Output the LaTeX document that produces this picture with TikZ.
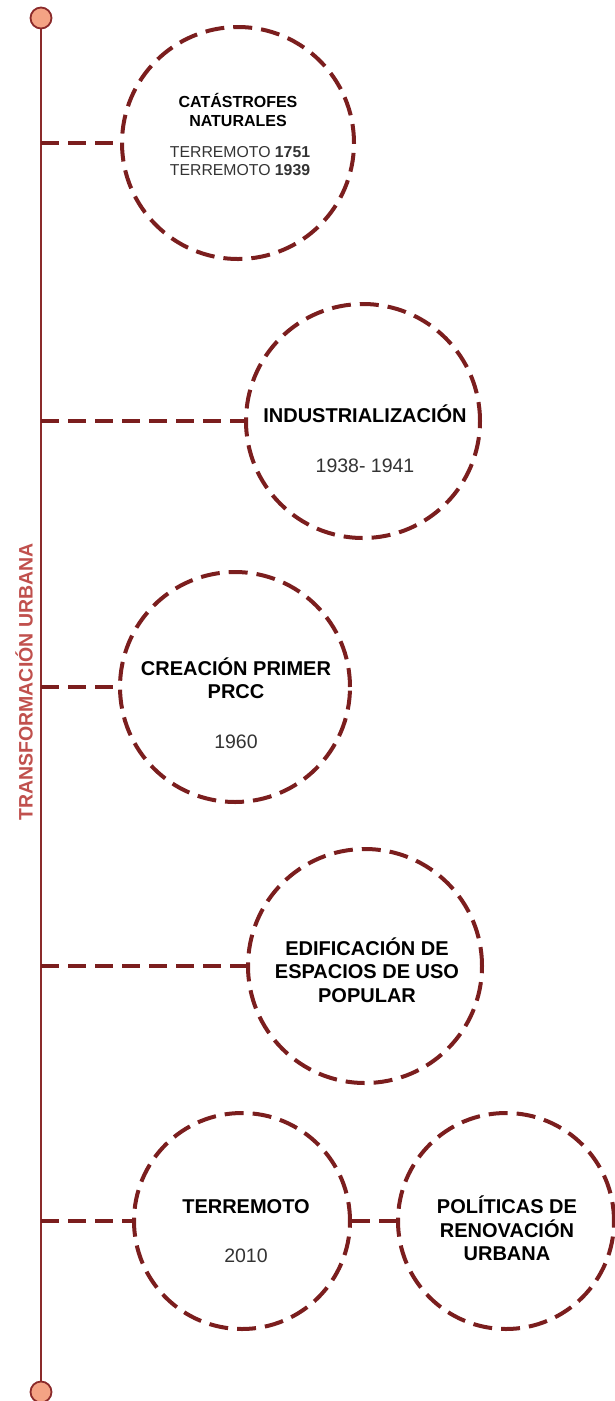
\documentclass[tikz,border=0pt]{standalone}
\usepackage{fontspec}
\setmainfont{Liberation Sans}
\definecolor{dred}{HTML}{7B1E1E}
\definecolor{spine}{HTML}{8B2A2A}
\definecolor{lred}{HTML}{C0504D}
\definecolor{salmon}{HTML}{F4A384}
\definecolor{dtgray}{HTML}{333333}
\begin{document}
\begin{tikzpicture}[x=1pt,y=-1pt,
  ring/.style={circle, draw=dred, line width=4pt, dash pattern=on 19pt off 9pt, minimum size=#1, inner sep=0pt},
  link/.style={draw=dred, line width=3.5pt, dash pattern=on 18pt off 9pt},
  enddot/.style={circle, draw=spine, line width=1.8pt, fill=salmon, minimum size=21pt, inner sep=0pt},
  ttl/.style={font=\fontsize{20}{23}\selectfont\bfseries, text=black, anchor=base},
  dt/.style={font=\fontsize{19.5}{23}\selectfont, text=dtgray, anchor=base},
  sttl/.style={font=\fontsize{16}{19}\selectfont\bfseries, text=black, anchor=base},
  sdt/.style={font=\fontsize{15.8}{19}\selectfont, text=dtgray, anchor=base},
  vlabel/.style={font=\fontsize{19.5}{23}\selectfont\bfseries, text=lred, rotate=90}
]
\useasboundingbox (0,0) rectangle (614,1401);

% spine
\coordinate (top) at (41,18);
\coordinate (bot) at (41,1392);
\draw[spine, line width=2.8pt] (top) -- (bot);
\node[enddot] (topdot) at (top) {};
\node[enddot] (botdot) at (bot) {};

\node[vlabel] (vl) at (24,682) {TRANSFORMACIÓN URBANA};

% circles
\node[ring=232pt] (c1) at (238,143) {};
\node[ring=234pt] (c2) at (363,421) {};
\node[ring=230pt] (c3) at (235,687) {};
\node[ring=234pt] (c4) at (365,966) {};
\node[ring=216pt] (c5) at (242,1221) {};
\node[ring=216pt] (c6) at (506,1221) {};

% spine attachment points
\coordinate (s1) at (41,143);
\coordinate (s2) at (41,421);
\coordinate (s3) at (41,687);
\coordinate (s4) at (41,966);
\coordinate (s5) at (41,1221);

\draw[link] (s1) -- (c1.west);
\draw[link] (s2) -- (c2.west);
\draw[link] (s3) -- (c3.west);
\draw[link] (s4) -- (c4.west);
\draw[link] (s5) -- (c5.west);
\draw[link] (c5.east) -- (c6.west);

% texts circle 1
\node[sttl] (t1a) at (238,107) {CATÁSTROFES};
\node[sttl] (t1b) at (238,126) {NATURALES};
\node[sdt] (t1c) at (240,157) {TERREMOTO \textbf{1751}};
\node[sdt] (t1d) at (240,175) {TERREMOTO \textbf{1939}};

% circle 2
\node[ttl] (t2a) at (365,422) {INDUSTRIALIZACIÓN};
\node[dt] (t2b) at (365,472) {1938- 1941};

% circle 3
\node[ttl] (t3a) at (236,675) {CREACIÓN PRIMER};
\node[ttl] (t3b) at (236,698) {PRCC};
\node[dt] (t3c) at (236,748) {1960};

% circle 4
\node[ttl] (t4a) at (367,955) {EDIFICACIÓN DE};
\node[ttl] (t4b) at (367,978) {ESPACIOS DE USO};
\node[ttl] (t4c) at (367,1002) {POPULAR};

% circle 5
\node[ttl] (t5a) at (246,1213) {TERREMOTO};
\node[dt] (t5b) at (246,1262) {2010};

% circle 6
\node[ttl] (t6a) at (507,1213) {POLÍTICAS DE};
\node[ttl] (t6b) at (507,1237) {RENOVACIÓN};
\node[ttl] (t6c) at (507,1260) {URBANA};
\end{tikzpicture}
\end{document}
